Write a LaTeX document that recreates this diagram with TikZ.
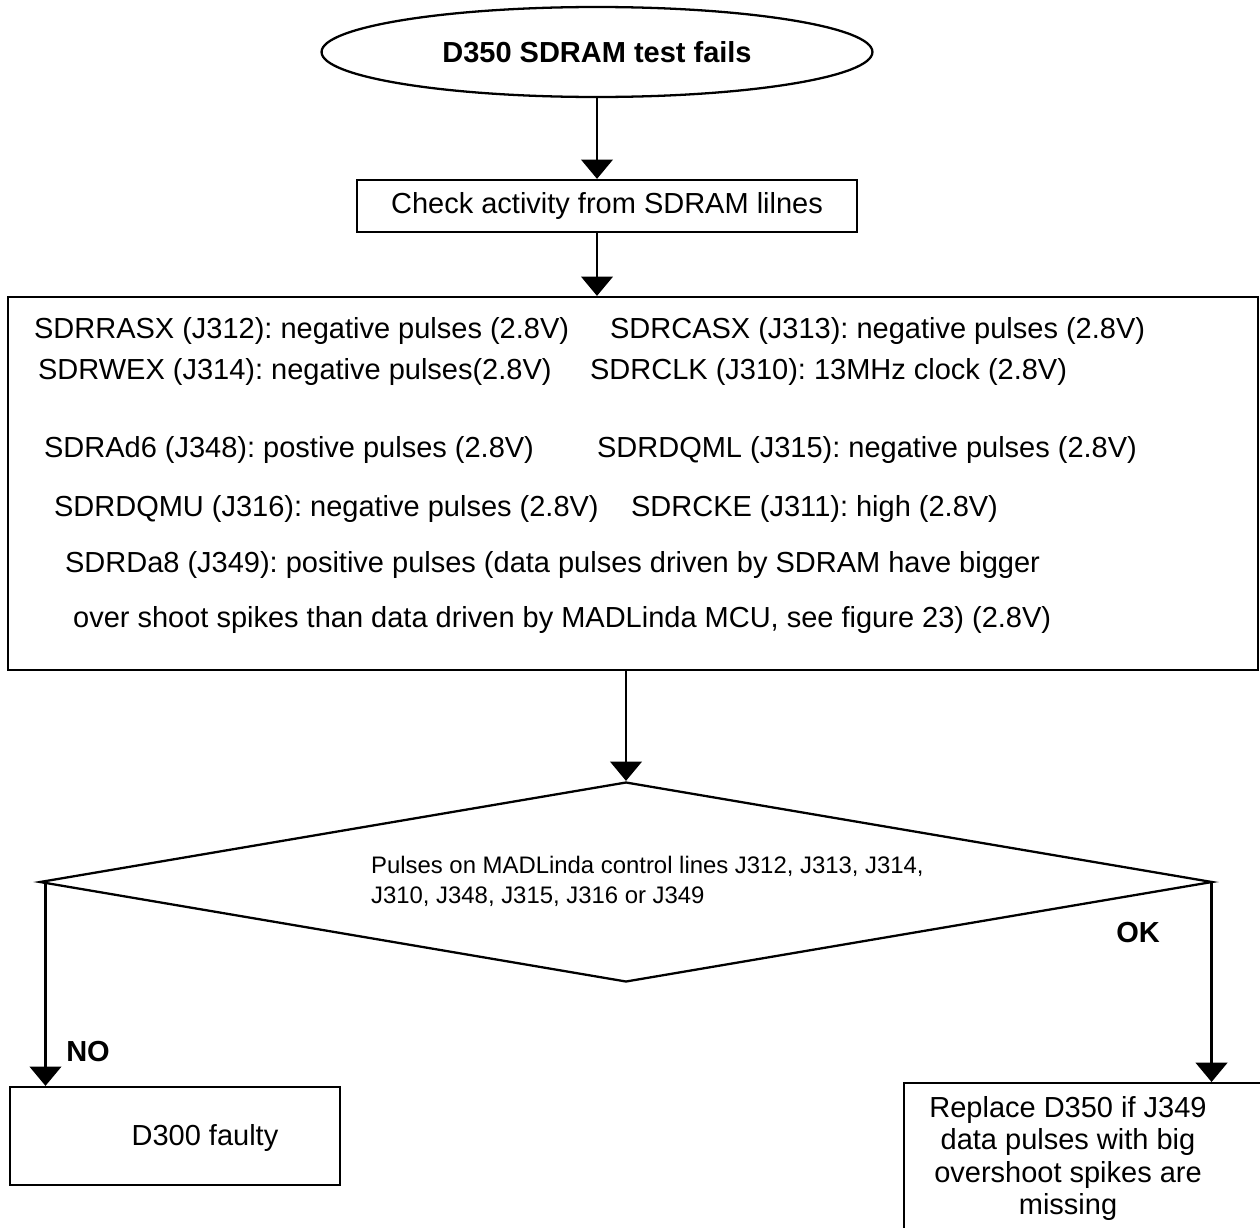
\documentclass[tikz,border=0pt]{standalone}
\usepackage{fontspec}
\setmainfont{Liberation Sans}
\frenchspacing
\usetikzlibrary{arrows.meta,positioning,shapes.geometric,calc}

\begin{document}
\begin{tikzpicture}[x=0.02cm, y=-0.02cm, >={Triangle[width=18pt,length=11pt]},
  line width=1.3pt, font=\fontsize{16.5}{18.5}\selectfont,
  box/.style={draw, rectangle, inner sep=0pt},
  txt/.style={inner sep=0pt, anchor=west},
  hd/.style={inner sep=0pt, font=\fontsize{16.5}{18.5}\selectfont\bfseries},
  small/.style={font=\fontsize{13.6}{17}\selectfont}]
  \useasboundingbox (0,0) rectangle (1260,1227);
  \clip (0,0) rectangle (1260,1227);

  \node[draw, ellipse, minimum width=11.02cm, minimum height=1.8cm,
        inner sep=0pt, hd] (start) at (597,52) {D350 SDRAM test fails};
  \node[box, minimum width=10cm, minimum height=1.04cm] (chk) at (607,206)
    {Check activity from SDRAM lilnes};

  % signal list
  \node[box, minimum width=25cm, minimum height=7.46cm] (sig) at (633,483.5) {};
  \node[txt] (ras) at (33,331)  {SDRRASX (J312): negative pulses (2.8V)};
  \node[txt] (cas) at (609,331) {SDRCASX (J313): negative pulses (2.8V)};
  \node[txt] (wex) at (37,372)  {SDRWEX (J314): negative pulses(2.8V)};
  \node[txt] (clk) at (589,372) {SDRCLK (J310): 13MHz clock (2.8V)};
  \node[txt] (ad6) at (43,450)  {SDRAd6 (J348): postive pulses (2.8V)};
  \node[txt] (dqml) at (596,450) {SDRDQML (J315): negative pulses (2.8V)};
  \node[txt] (dqmu) at (53,509) {SDRDQMU (J316): negative pulses (2.8V)};
  \node[txt] (cke) at (630,509) {SDRCKE (J311): high (2.8V)};
  \node[txt] (da8) at (64,565)  {SDRDa8 (J349): positive pulses (data pulses driven by SDRAM have bigger};
  \node[txt] (da8b) at (72,620) {over shoot spikes than data driven by MADLinda MCU, see figure 23) (2.8V)};

  % decision
  \node[draw, diamond, minimum width=23.46cm, minimum height=4cm,
        inner sep=0pt] (dec) at (626,882) {};
  \node[txt, small, align=left] (dectxt) at (370,881)
    {Pulses on MADLinda control lines J312, J313, J314,\\J310, J348, J315, J316 or J349};

  \node[box, minimum width=6.6cm, minimum height=1.96cm] (bad) at (175,1136) {};
  \node[inner sep=0pt] (badtxt) at (205,1138) {D300 faulty};
  \node[box, anchor=north west, minimum width=8cm, minimum height=4cm] (rep) at (903,1082) {};
  \node[inner sep=0pt, anchor=north, align=center] (reptxt) at (1068,1095)
    {Replace D350 if J349\\data pulses with big\\overshoot spikes are\\missing};

  \draw[->] (start.south) -- (start.south |- chk.north);
  \draw[->] (start.south |- chk.south) -- (start.south |- sig.north);
  \draw[->] (sig.south -| dec.north) -- (dec.north);
  \draw[->] ([xshift=0.14cm]dec.west) -- ([xshift=0.14cm]dec.west |- bad.north);
  \draw[->] ([xshift=-0.04cm]dec.east) -- ([xshift=-0.04cm]dec.east |- rep.north);
  \node[hd] (no) at (88,1052) {NO};
  \node[hd] (ok) at (1138,933) {OK};
\end{tikzpicture}
\end{document}
